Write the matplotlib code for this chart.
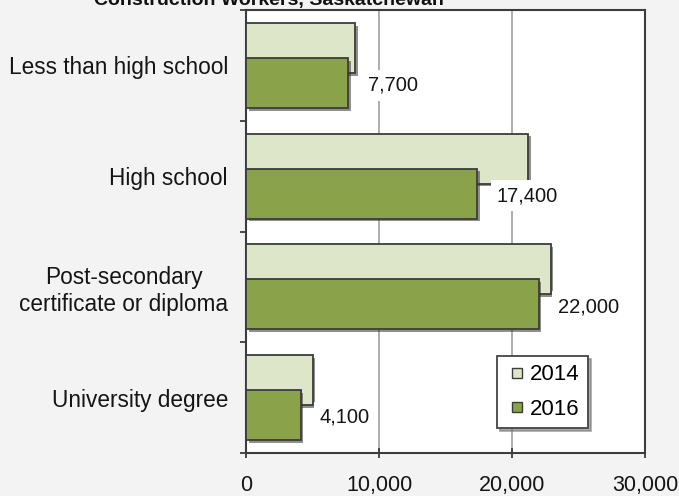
import matplotlib

matplotlib.use("Agg")
import matplotlib.pyplot as plt
import matplotlib.patheffects as pe
from matplotlib.lines import Line2D
import numpy as np

plt.rcParams["font.family"] = ["Liberation Sans", "DejaVu Sans"]

# data
categories = ["Less than high school", "High school",
              "Post-secondary\ncertificate or diploma", "University degree"]
years = ["2014", "2016"]
values_2014 = [8200, 21200, 22900, 5000]
values_2016 = [7700, 17400, 22000, 4100]
title = "Construction Workers, Saskatchewan"

LIGHT = "#dde6c8"
DARK = "#8aa34a"
EDGE = "#3c3c3c"
BG = "#f3f3f3"
TXT = "#151515"

fig = plt.figure(figsize=(6.79, 4.96), dpi=100, facecolor=BG)
ax = fig.add_axes([246 / 679, 1 - 453 / 496, 399 / 679, 443 / 496])
ax.set_facecolor("white")

y = np.arange(len(categories))
h = 0.45
off = 0.158
shadow = [pe.SimplePatchShadow(offset=(2, -2), shadow_rgbFace="#333333", alpha=0.55), pe.Normal()]

b14 = ax.barh(y - off, values_2014, height=h, color=LIGHT, edgecolor=EDGE,
              linewidth=1.3, zorder=3)
b16 = ax.barh(y + off, values_2016, height=h, color=DARK, edgecolor=EDGE,
              linewidth=1.3, zorder=4)
for bar in list(b14) + list(b16):
    bar.set_path_effects(shadow)

# value labels for 2016 only, white box behind like the original
for yi, v in zip(y, values_2016):
    ax.annotate(f"{v:,}", xy=(v, yi + off + 0.02), xytext=(14, 0),
                textcoords="offset points", ha="left", va="center",
                fontsize=14.5, color=TXT, zorder=6,
                bbox=dict(boxstyle="square,pad=0.3", fc="white", ec="none"))

ax.set_xlim(0, 30000)
ax.set_ylim(len(categories) - 0.5, -0.5)
ax.set_xticks([0, 10000, 20000, 30000])
ax.set_xticklabels([f"{t:,}" for t in [0, 10000, 20000, 30000]])
ax.set_yticks(y)
ax.set_yticklabels(categories)
ax.set_yticks(np.arange(len(categories) + 1) - 0.5, minor=True)
for lab in ax.get_yticklabels():
    lab.set_multialignment("center")

ax.tick_params(axis="y", which="major", length=0, pad=13, labelsize=16.3, labelcolor=TXT)
ax.tick_params(axis="y", which="minor", length=4, width=1.3, color=EDGE, direction="out")
ax.tick_params(axis="x", length=7, width=1.3, color=EDGE, direction="inout", pad=12,
               labelsize=15.5, labelcolor=TXT)

ax.grid(axis="x", color="#a0a0a0", linewidth=1.2, zorder=0)
ax.set_axisbelow(True)
for s in ax.spines.values():
    s.set_color(EDGE)
    s.set_linewidth(1.5)

handles = [Line2D([], [], linestyle="none", marker="s", markersize=7,
                  markerfacecolor=c, markeredgecolor=EDGE, markeredgewidth=1.0)
           for c in (LIGHT, DARK)]
leg = ax.legend(handles, years, loc="lower left", bbox_to_anchor=(0.629, 0.056),
                borderaxespad=0, fontsize=16, handlelength=1.05,
                handletextpad=0.05, labelspacing=0.6, borderpad=0.38,
                fancybox=False, shadow={"color": "#777777", "alpha": 0.6},
                framealpha=1, edgecolor="#444444")
leg.get_frame().set_linewidth(1.3)
leg.set_zorder(7)

fig.text(269 / 679, 1 - 5 / 496, title, ha="center", va="baseline",
         fontsize=14, fontweight="bold", color="#111111")

fig.savefig("out.png", dpi=100, facecolor=BG)
